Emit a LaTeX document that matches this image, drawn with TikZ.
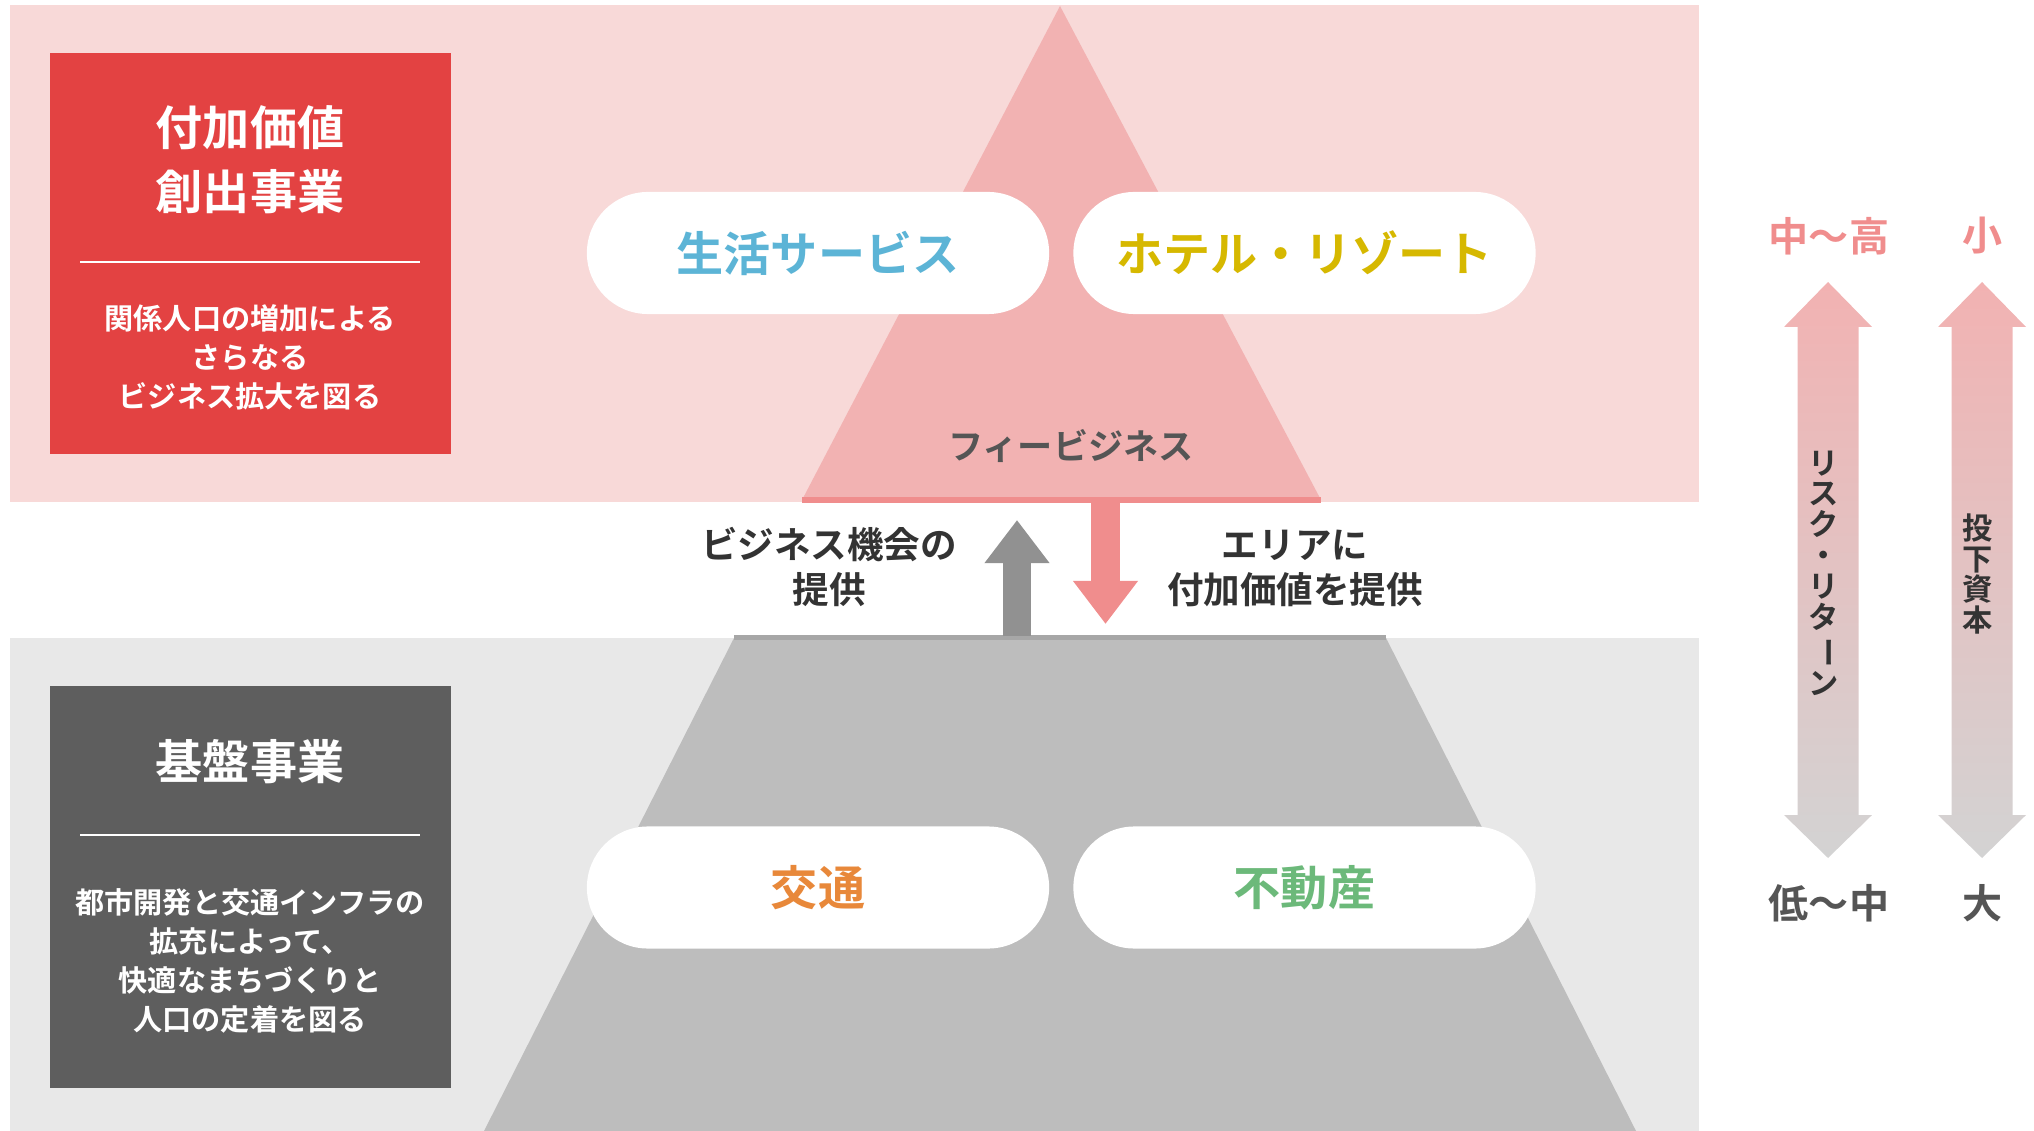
\documentclass[tikz,border=0pt]{standalone}
\usepackage{fontspec}
\setmainfont{Noto Sans CJK JP}[BoldFont={Noto Sans CJK JP Bold}]
\usetikzlibrary{arrows.meta}
\definecolor{bandpink}{HTML}{F8D9D8}
\definecolor{bandgray}{HTML}{E8E8E8}
\definecolor{boxred}{HTML}{E34242}
\definecolor{boxgray}{HTML}{5E5E5E}
\definecolor{peakpink}{HTML}{F2B2B2}
\definecolor{linepink}{HTML}{F08D8D}
\definecolor{basegray}{HTML}{BDBDBD}
\definecolor{linegray}{HTML}{919191}
\definecolor{fadegray}{HTML}{D3D3D3}
\definecolor{txtblue}{HTML}{5CB4D6}
\definecolor{txtyellow}{HTML}{D6B800}
\definecolor{txtorange}{HTML}{E8883A}
\definecolor{txtgreen}{HTML}{6CB97A}
\definecolor{txtdark}{HTML}{333333}
\definecolor{txtgray}{HTML}{555555}
\newcommand{\fsz}[2]{\fontsize{#1}{#2}\selectfont}

\begin{document}
\begin{tikzpicture}[x=0.01cm, y=-0.01cm,
  pill/.style={fill=white, rounded corners=0.61cm, minimum width=4.62cm,
               minimum height=1.22cm, inner sep=0pt, font=\fsz{13.4}{16}\bfseries, text=#1},
  sidebox/.style={fill=#1, minimum width=4.01cm, minimum height=4.01cm, inner sep=0pt},
  boxhead/.style={text=white, align=center, font=\fsz{13.4}{18.2}\bfseries},
  boxnote/.style={text=white, align=center, font=\fsz{8.3}{11.1}\bfseries},
  flowlabel/.style={text=txtdark, align=center, font=\fsz{10.4}{12.8}\bfseries},
  blockarrow/.style={draw=#1, line width=0.285cm, -{Triangle[length=0.43cm, width=0.62cm]}},
  scalelabel/.style={text=#1, font=\fsz{11.4}{14}\bfseries},
  vtext/.style={text=txtdark, align=center, inner sep=0pt, font=\fsz{8.6}{8.8}\bfseries},
]
\useasboundingbox (0,0) rectangle (2034,1131);

% bands
\fill[bandpink] (10,5) rectangle (1699,502);
\fill[bandgray] (10,638) rectangle (1699,1131);

% pyramid
\fill[peakpink] (1060,6) -- (1321,500) -- (802,500) -- cycle;
\fill[basegray] (734,638) -- (1386,638) -- (1636,1131) -- (484,1131) -- cycle;
\fill[linepink] (802,497) rectangle (1321,503);
\fill[linegray!80] (734,635) rectangle (1386,640);

% side boxes
\node[sidebox=boxred] (valuebox) at (250.5,253.5) {};
\node[sidebox=boxgray] (basebox) at (250.5,887) {};
\draw[white, line width=0.6pt] (80,262) -- (420,262);
\draw[white, line width=0.6pt] (80,835) -- (420,835);

\node[boxhead] (valuehead) at (250,160) {付加価値\\創出事業};
\node[boxnote] (valuenote) at (250,357) {関係人口の増加による\\さらなる\\ビジネス拡大を図る};
\node[boxhead] (basehead) at (250,762) {基盤事業};
\node[boxnote] (basenote) at (250,961) {都市開発と交通インフラの\\拡充によって、\\快適なまちづくりと\\人口の定着を図る};

% business pills
\node[pill=txtblue] (life) at (818,253) {生活サービス};
\node[pill=txtyellow] (hotel) at (1304.5,253) {ホテル・リゾート};
\node[pill=txtorange] (transit) at (818,887.5) {交通};
\node[pill=txtgreen] (estate) at (1304.5,887.5) {不動産};

\node[text=txtgray, font=\fsz{10}{12}\bfseries] (fee) at (1071,446) {フィービジネス};

% exchange arrows
\coordinate (upfoot) at (1017,636);
\coordinate (uptip) at (1017,520);
\coordinate (downtop) at (1105.5,500);
\coordinate (downtip) at (1105.5,624);
\draw[blockarrow=linegray] (upfoot) -- (uptip);
\draw[blockarrow=linepink] (downtop) -- (downtip);

\node[flowlabel] (chance) at (829,567) {ビジネス機会の\\提供};
\node[flowlabel] (addval) at (1295,568) {エリアに\\付加価値を提供};

% risk / capital scale
\foreach \cx in {1828,1982}
  \shade[top color=peakpink, bottom color=fadegray]
    (\cx,282) -- (\cx+44,327) -- (\cx+30.5,327) -- (\cx+30.5,815) -- (\cx+44,815)
    -- (\cx,858) -- (\cx-44,815) -- (\cx-30.5,815) -- (\cx-30.5,327) -- (\cx-44,327) -- cycle;

\node[vtext] (risk) at (1824,573) {リ\\ス\\ク\\・\\リ\\タ\\\rotatebox[origin=c]{-90}{ー}\\ン};
\node[vtext] (capital) at (1978,574) {投\\下\\資\\本};

\node[scalelabel=linepink] (riskhi) at (1829,236) {中〜高};
\node[scalelabel=linepink] (caplo) at (1983,236) {小};
\node[scalelabel=txtgray] (risklo) at (1829,903) {低〜中};
\node[scalelabel=txtgray] (caphi) at (1983,903) {大};

\end{tikzpicture}
\end{document}
